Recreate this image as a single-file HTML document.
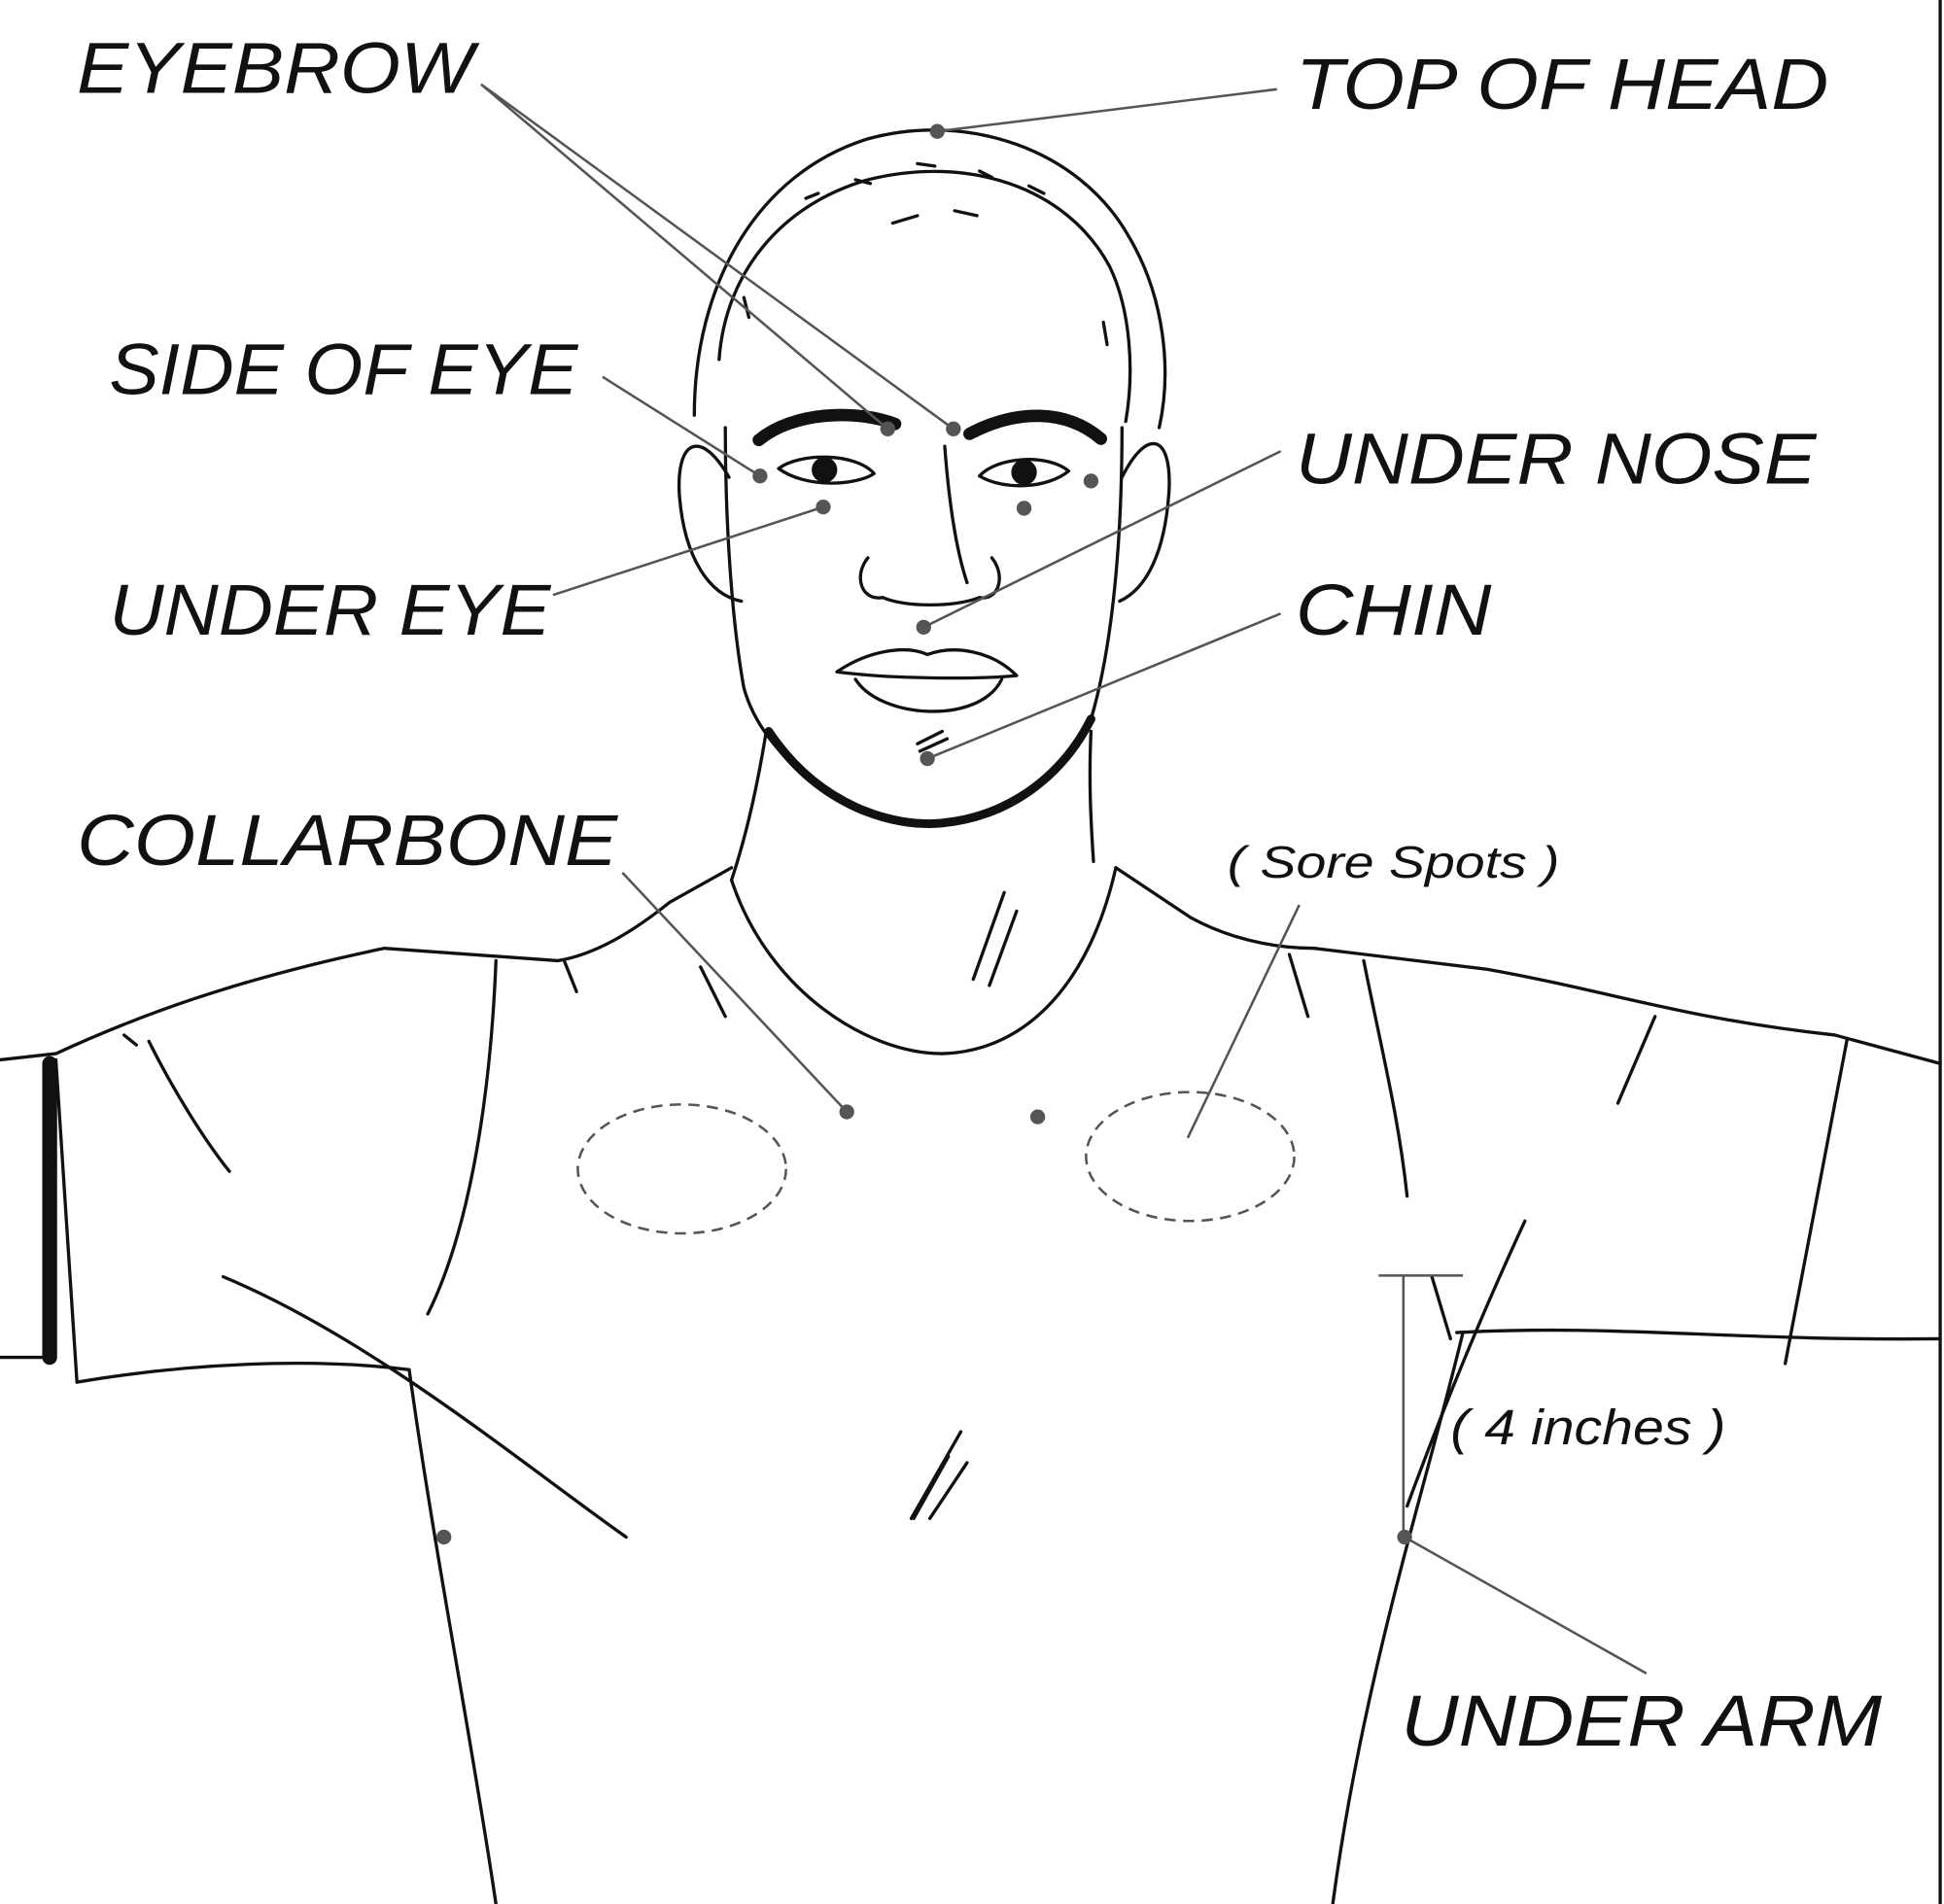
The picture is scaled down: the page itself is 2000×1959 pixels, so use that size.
<!DOCTYPE html>
<html><head><meta charset="utf-8"><style>
html,body{margin:0;padding:0;background:#fff;}
svg{display:block;}
text{font-family:"Liberation Sans",sans-serif;font-style:italic;fill:#111;}
</style></head><body>
<svg width="2000" height="1959" viewBox="0 0 1568 1536" xmlns="http://www.w3.org/2000/svg">
<rect width="1568" height="1536" fill="#fff"/>
<g fill="none" stroke="#111" stroke-width="2.6" stroke-linecap="round" stroke-linejoin="round">
<!-- hair -->
<path d="M560,335 C560,230 610,140 700,112 C780,90 870,120 910,190 C940,240 945,300 935,345"/>
<path d="M580,290 C585,220 630,165 700,145 C780,125 860,150 895,215 C912,250 915,300 908,340"/>
<path d="M650,160 l10,-4 M690,145 l12,3 M740,132 l14,2 M790,138 l10,5 M830,150 l12,6 M720,180 l20,-6 M770,170 l18,4 M600,240 l4,16 M890,260 l3,18"/>
<!-- face -->
<path d="M585,345 C585,420 590,500 600,555 C615,610 680,660 745,664 C810,662 860,620 880,580 C895,530 905,450 905,345"/>
<path d="M620,590 C660,650 720,668 760,664 C820,658 860,620 880,580" stroke-width="7"/>
<!-- ears -->
<path d="M588,385 C565,345 545,355 548,400 C552,450 572,480 598,485"/>
<path d="M905,385 C925,345 945,350 943,395 C940,445 925,475 903,485"/>
<!-- eyebrows -->
<path d="M612,355 C640,332 690,330 722,342" stroke-width="10"/>
<path d="M782,350 C820,330 860,330 888,354" stroke-width="10"/>
<!-- eyes -->
<path d="M628,378 C645,365 690,365 705,382 C690,392 650,394 628,378Z"/>
<circle cx="665" cy="379" r="9" fill="#111"/>
<path d="M790,384 C805,368 845,366 862,380 C845,394 810,396 790,384Z"/>
<circle cx="826" cy="381" r="9" fill="#111"/>
<!-- nose -->
<path d="M762,360 C765,400 770,440 780,470 M700,450 C688,465 695,485 712,482 M800,450 C812,465 805,485 790,482 M712,482 C730,490 770,490 790,482"/>
<!-- lips -->
<path d="M675,542 C700,525 730,520 748,528 C770,520 800,525 820,545 C790,548 720,548 675,542Z"/>
<path d="M690,548 C710,580 790,585 808,548"/>
<path d="M740,600 l20,-10 M742,606 l22,-10"/>
<!-- neck -->
<path d="M618,590 C610,640 600,680 590,710"/>
<path d="M880,590 C878,630 880,665 882,695"/>
<path d="M590,710 C620,800 700,850 760,850 C830,848 880,790 900,700"/>
<path d="M810,720 l-25,70 M820,735 l-22,60"/>
<!-- shirt shoulders -->
<path d="M590,700 L540,728 C510,752 480,770 450,775 L310,765 C190,790 110,820 45,850 L0,855"/>
<path d="M900,700 L960,740 C1000,762 1040,765 1060,765 L1200,782 C1300,800 1360,822 1480,835 L1565,858"/>
<path d="M100,835 l10,8 M455,775 l10,25 M1040,770 l15,50 M1335,820 l-30,70"/>
<!-- left sleeve -->
<path d="M40,858 L40,1095" stroke-width="12"/>
<path d="M45,855 L62,1115"/>
<path d="M0,1095 L40,1095"/>
<path d="M62,1115 C150,1100 250,1095 330,1105"/>
<path d="M120,840 C140,880 165,920 185,945"/>
<!-- right sleeve -->
<path d="M1490,838 L1440,1100"/>
<path d="M1175,1075 C1300,1068 1400,1082 1565,1080"/>
<path d="M1565,0 L1565,1536"/>
<!-- torso -->
<path d="M330,1105 C350,1250 380,1400 400,1536"/>
<path d="M1180,1075 C1150,1200 1100,1350 1075,1536"/>
<path d="M180,1030 C300,1080 420,1180 505,1240"/>
<path d="M400,775 C395,900 375,1000 345,1060"/>
<path d="M1100,775 C1115,850 1128,900 1135,965"/>
<path d="M1230,985 C1200,1050 1170,1120 1135,1215"/>
<path d="M1155,1030 L1170,1080"/>
<path d="M775,1155 l-40,70 M765,1175 l-28,50 M780,1180 l-30,45"/>
<path d="M565,780 l20,40"/>
</g>
<!-- dashed ellipses -->
<g fill="none" stroke="#555" stroke-width="2" stroke-dasharray="9,6">
<ellipse cx="550" cy="943" rx="84" ry="52"/>
<ellipse cx="960" cy="933" rx="84" ry="52"/>
</g>
<!-- leader lines -->
<g stroke="#555" stroke-width="2" fill="none">
<path d="M388,68 L716,346 M388,68 L769,346"/>
<path d="M1030,72 L756,106"/>
<path d="M486,304 L613,384"/>
<path d="M446,480 L664,409"/>
<path d="M1033,364 L745,506"/>
<path d="M1033,495 L748,612"/>
<path d="M502,704 L683,897"/>
<path d="M1048,730 L958,918"/>
<path d="M1112,1029 L1180,1029 M1132,1029 L1132,1240"/>
<path d="M1133,1240 L1328,1350"/>
</g>
<g fill="#555">
<circle cx="716" cy="346" r="6"/><circle cx="769" cy="346" r="6"/>
<circle cx="756" cy="106" r="6"/><circle cx="613" cy="384" r="6"/>
<circle cx="880" cy="388" r="6"/><circle cx="664" cy="409" r="6"/>
<circle cx="826" cy="410" r="6"/><circle cx="745" cy="506" r="6"/>
<circle cx="748" cy="612" r="6"/><circle cx="683" cy="897" r="6"/>
<circle cx="837" cy="901" r="6"/><circle cx="1133" cy="1240" r="6"/>
<circle cx="358" cy="1240" r="6"/>
</g>
<!-- labels -->
<g font-size="58">
<text x="62" y="75" textLength="320" lengthAdjust="spacingAndGlyphs">EYEBROW</text>
<text x="1045" y="88" textLength="430" lengthAdjust="spacingAndGlyphs">TOP OF HEAD</text>
<text x="88" y="318" textLength="378" lengthAdjust="spacingAndGlyphs">SIDE OF EYE</text>
<text x="1045" y="390" textLength="420" lengthAdjust="spacingAndGlyphs">UNDER NOSE</text>
<text x="88" y="512" textLength="356" lengthAdjust="spacingAndGlyphs">UNDER EYE</text>
<text x="1045" y="512" textLength="158" lengthAdjust="spacingAndGlyphs">CHIN</text>
<text x="62" y="698" textLength="436" lengthAdjust="spacingAndGlyphs">COLLARBONE</text>
<text x="1130" y="1408" textLength="388" lengthAdjust="spacingAndGlyphs">UNDER ARM</text>
</g>
<text x="990" y="708" font-size="36" textLength="268" lengthAdjust="spacingAndGlyphs">( Sore Spots )</text>
<text x="1170" y="1165" font-size="40" textLength="222" lengthAdjust="spacingAndGlyphs">( 4 inches )</text>
</svg>
</body></html>
